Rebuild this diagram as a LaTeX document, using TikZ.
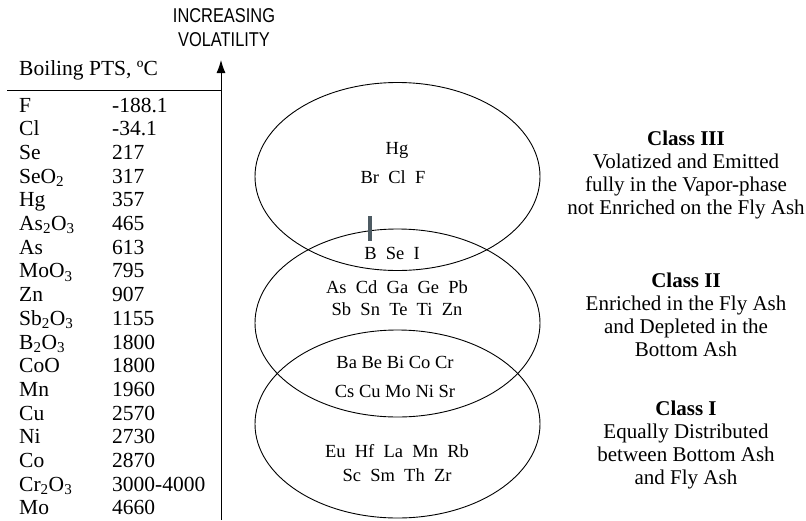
\documentclass[tikz,border=0pt]{standalone}
\usepackage{fontspec}
\setmainfont{Liberation Serif}
\newfontfamily\narrowsans[FakeStretch=0.82]{Liberation Sans}
\usetikzlibrary{arrows.meta}
\usetikzlibrary{shapes.geometric}
\definecolor{barcol}{HTML}{4D5B63}
\tikzset{tb/.style={font=\fontsize{21.5}{21.5}\selectfont, inner sep=0pt, anchor=base west}}
\tikzset{el/.style={font=\fontsize{18.5}{18.5}\selectfont, inner sep=0pt, text height=12.5pt, text depth=0pt}}
\tikzset{cl/.style={font=\fontsize{21}{23}\selectfont, inner sep=0pt, align=center, anchor=north}}
\tikzset{ring/.style={draw, ellipse, line width=0.9pt, minimum width=285pt, minimum height=188pt, inner sep=0pt}}

\begin{document}
\begin{tikzpicture}[x=1pt,y=-1pt]
  \useasboundingbox (0,0) rectangle (806,520);
  % volatility axis
  \node [font=\narrowsans\fontsize{20}{24}\selectfont, align=center, inner sep=0pt, anchor=north] (volat) at (224,8) {INCREASING\\VOLATILITY};
  \coordinate (axbot) at (221,520);
  \coordinate (axtop) at (221,60);
  \draw [line width=0.9pt, -{Latex[length=13pt,width=9pt]}] (axbot) -- (axtop);
  \coordinate (rulel) at (7,90);
  \coordinate (ruler) at (221,90);
  \draw [line width=0.9pt] (rulel) -- (ruler);
  % boiling points
  \node [tb] (bphead) at (19,75) {Boiling PTS, ºC};
  \foreach \nm/\bp [count=\i from 0] in {F/-188.1, Cl/-34.1, Se/217, SeO\textsubscript{2}/317, Hg/357,
      As\textsubscript{2}O\textsubscript{3}/465, As/613, MoO\textsubscript{3}/795, Zn/907,
      Sb\textsubscript{2}O\textsubscript{3}/1155, B\textsubscript{2}O\textsubscript{3}/1800, CoO/1800,
      Mn/1960, Cu/2570, Ni/2730, Co/2870, Cr\textsubscript{2}O\textsubscript{3}/3000-4000, Mo/4660}{
    \node [tb] (nm\i) at (19,{112+23.7*\i}) {\nm};
    \node [tb] (bp\i) at (112,{112+23.7*\i}) {\bp};
  }
  % classes
  \node [ring] (class3) at (397.5,176.5) {};
  \node [ring] (class2) at (397.5,323) {};
  \node [ring] (class1) at (397.5,424) {};
  \fill [barcol] (368,216) rectangle (372,241);
  \node [el] (hg) at (397,148) {Hg};
  \node [el] (brclf) at (393,177) {Br~ Cl~ F};
  \node [el] (bsei) at (392,253) {B~ Se~ I};
  \node [el] (ascd) at (397,287) {As~ Cd~ Ga~ Ge~ Pb};
  \node [el] (sbsn) at (397,309) {Sb~ Sn~ Te~ Ti~ Zn};
  \node [el] (babe) at (395,362) {Ba Be Bi Co Cr};
  \node [el] (cscu) at (395,391) {Cs Cu Mo Ni Sr};
  \node [el] (euhf) at (397,451) {Eu~ Hf~ La~ Mn~ Rb};
  \node [el] (scsm) at (397,475) {Sc~ Sm~ Th~ Zr};
  % class notes
  \node [cl] (note3) at (686,131) {\textbf{Class III}\\Volatized and Emitted\\fully in the Vapor-phase\\not Enriched on the Fly Ash};
  \node [cl] (note2) at (686,273) {\textbf{Class II}\\Enriched in the Fly Ash\\and Depleted in the\\Bottom Ash};
  \node [cl] (note1) at (686,401) {\textbf{Class I}\\Equally Distributed\\between Bottom Ash\\and Fly Ash};
\end{tikzpicture}
\end{document}
